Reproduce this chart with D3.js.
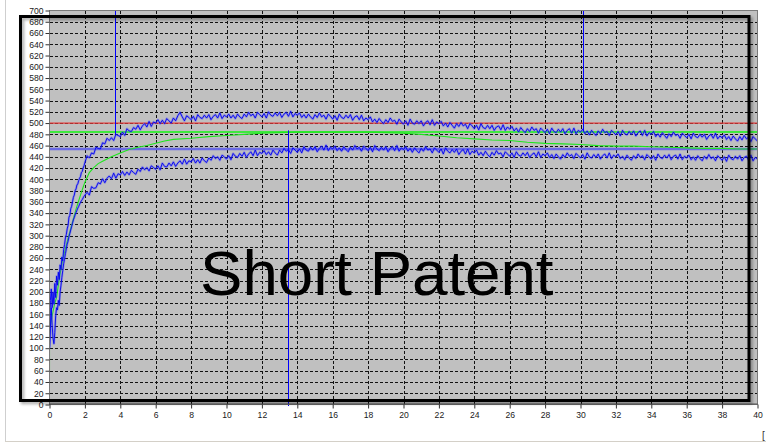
<!DOCTYPE html>
<html><head><meta charset="utf-8">
<script src="https://cdn.jsdelivr.net/npm/d3@7"></script>
<style>html,body{margin:0;padding:0;background:#fff;overflow:hidden;} svg{display:block;}</style>
</head><body>
<svg id="c" width="766" height="443"></svg>
<script>
// ---------- DATA ----------
const xTickValues = [0,2,4,6,8,10,12,14,16,18,20,22,24,26,28,30,32,34,36,38,40];
const yTickValues = [0,20,40,60,80,100,120,140,160,180,200,220,240,260,280,300,320,340,360,380,400,420,440,460,480,500,520,540,560,580,600,620,640,660,680,700];

// sampling of the two noisy traces: early part every 0.05 s from 0, late part every 0.125 s from 2.125
const earlyStart = 0, earlyStep = 0.05;
const lateStart = 2.125, lateStep = 0.125;

const upperEarly = [
  100,185,205,172,200,178,215,190,228,212,
  235,222,248,240,262,255,275,284,296,302,
  312,318,333,336,348,352,360,368,372,380,
  383,390,392,398,402,405,412,414,420,424,
  430];
const upperLate = [
  442,438,447,445,457,455,454,465,  463,473,469,474,469,480,478,476,
  484,478,490,486,485,492,489,496,  488,495,499,493,503,494,502,500,
  506,499,505,499,508,504,500,509,  504,513,519,511,504,513,510,506,
  512,504,515,510,508,514,509,515,  506,512,515,509,518,508,514,511,
  516,509,514,508,516,511,508,516,  511,519,513,516,509,519,515,511,
  517,509,520,514,512,518,513,519,  510,516,519,512,521,511,517,514,
  518,510,515,509,516,511,507,515,  510,518,511,514,507,516,512,507,
  513,505,516,510,508,514,509,515,  505,511,513,506,514,504,509,506,
  511,502,507,501,508,503,499,506,  501,509,503,505,498,507,502,498,
  504,496,507,500,498,504,499,504,  495,501,504,497,506,496,502,499,
  503,495,500,493,501,496,491,499,  494,501,495,498,490,499,495,490,
  496,488,499,492,490,496,490,496,  487,493,495,488,497,487,493,489,
  494,486,491,484,492,487,483,490,  485,493,487,490,482,491,487,483,
  489,481,491,485,483,489,484,490,  481,487,490,482,491,481,487,484,
  489,481,486,479,487,482,478,486,  481,489,483,485,478,487,483,479,
  485,477,487,481,479,485,480,486,  477,483,486,478,487,477,483,480,
  485,476,481,475,483,478,473,481,  476,484,478,480,473,482,478,474,
  480,472,482,476,474,480,475,480,  471,477,480,473,482,472,477,474,
  479,471,476,469,477,472,468,476,  470,478,472,475,467,476,472,468];

const lowerEarly = [
  100,135,172,140,118,108,128,158,172,168,
  185,176,200,212,226,238,250,258,268,276,
  285,290,298,304,310,316,322,328,332,337,
  341,345,349,352,356,359,362,364,367,370,
  372];
const lowerLate = [
  377,372,387,384,385,394,392,401,  394,402,406,401,411,402,410,408,
  414,407,413,408,416,412,409,418,  414,422,417,421,415,424,421,418,
  424,417,429,423,422,429,424,431,  423,429,433,427,436,427,433,431,
  437,429,435,429,438,433,430,438,  434,442,437,440,434,443,440,436,
  442,435,446,441,439,446,441,448,  439,445,449,442,452,442,448,446,
  451,444,449,443,452,447,443,452,  447,455,450,453,446,456,452,448,
  454,447,458,452,450,457,452,458,  449,455,459,452,461,451,457,454,
  459,451,456,450,458,453,449,457,  452,460,454,457,450,459,455,451,
  457,449,460,454,451,457,452,458,  449,455,458,451,460,450,456,453,
  458,450,455,448,456,451,447,455,  450,458,452,454,447,456,452,448,
  454,445,456,450,447,453,448,454,  444,450,453,445,454,444,450,447,
  452,443,448,442,450,444,440,448,  443,451,445,447,440,449,445,441,
  447,439,449,443,441,447,442,448,  439,444,447,440,449,439,445,442,
  447,439,444,437,445,440,436,444,  439,447,441,444,437,446,442,438,
  444,436,447,440,438,444,439,445,  436,442,445,438,447,437,443,440,
  445,437,441,435,443,438,434,442,  437,445,439,442,435,444,440,436,
  442,434,445,439,437,443,438,444,  435,441,443,436,445,435,441,438,
  443,435,440,434,442,437,433,441,  436,444,437,440,433,442,438,434,
  440,432,443,437,435,441,436,442,  433,439,441,434,443,433,439,436];

// smooth (green) trace
const greenT = [0,0,0.05,0.1,0.2,0.3,0.4,0.5,0.6,0.75,0.88,1.0,1.25,1.5,1.75,1.9,2.0,2.25,2.5,2.75,3.0,3.25,3.5,4.0,4.5,5.0,5.5,6.0,6.5,7,
  8,9,10,11,12,13,14,15,16,17,18,19,20,21,22,23,24,25,26,27,28,29,30,31,32,33,34,35,36,37,38,39,40];
const greenV = [60,125,140,150,165,180,190,212,232,258,274,290,318,347,372,386,395,412,421,428,432,436,440,447,453,457,460,464,468,471,
  473,476,478,480,482,483,484,484,484,484,484,483,482,480,477,474,472,470,469,466,464,463,462,460,459,459,458,457,456,455,455,454,454];

// horizontal reference levels
const refLevels = [500, 484, 454];           // red, green, blue
// cursor lines: x position, from value, to value
const cursorX    = [3.72, 30.16, 13.47];
const cursorFrom = [700, 700, 487];
const cursorTo   = [480, 485, 0];

const annotation = "Short Patent";

// ---------- DRAW ----------
const svg = d3.select("#c");
const W = 766, H = 443;
const pLeft = 49.5, pRight = 757.5, pTop = 10.5, pBottom = 404.5;

const x = d3.scaleLinear().domain([0, 40]).range([pLeft, pRight]);
const y = d3.scaleLinear().domain([0, 700]).range([pBottom, pTop]);

const defs = svg.append("defs");
defs.append("clipPath").attr("id","plotclip").append("rect")
  .attr("x", pLeft).attr("y", pTop).attr("width", pRight-pLeft).attr("height", pBottom-pTop);
const f = defs.append("filter").attr("id","shadow").attr("x","-5%").attr("y","-5%").attr("width","110%").attr("height","110%");
f.append("feDropShadow").attr("dx",2).attr("dy",2).attr("stdDeviation",1.6)
  .attr("flood-color","#000").attr("flood-opacity",0.35);

svg.append("rect").attr("width",W).attr("height",H).attr("fill","#fff");

// plot background
svg.append("rect").attr("x",pLeft).attr("y",pTop).attr("width",pRight-pLeft).attr("height",pBottom-pTop)
  .attr("fill","#c0c0c0");

// grid
const grid = svg.append("g").attr("stroke","#111").attr("stroke-width",1)
  .attr("stroke-dasharray","3,2").attr("shape-rendering","crispEdges");
grid.selectAll("line.v").data(xTickValues.filter(d => d > 0 && d < 40)).join("line")
  .attr("x1", d => Math.round(x(d)) + 0.5).attr("x2", d => Math.round(x(d)) + 0.5)
  .attr("y1", pTop).attr("y2", pBottom);
grid.selectAll("line.h").data(yTickValues.filter(d => d > 0 && d < 700)).join("line")
  .attr("y1", d => Math.round(y(d)) + 0.5).attr("y2", d => Math.round(y(d)) + 0.5)
  .attr("x1", pLeft).attr("x2", pRight);

const plot = svg.append("g").attr("clip-path","url(#plotclip)");

// reference lines
const refColors = ["#e43a3a", "#3ee83e", "#6a6ae4"];
const refWidths = [1.2, 2, 2.6];
plot.selectAll("line.ref").data(refLevels).join("line")
  .attr("x1", pLeft).attr("x2", pRight)
  .attr("y1", d => y(d)).attr("y2", d => y(d))
  .attr("stroke", (d,i) => refColors[i]).attr("stroke-width", (d,i) => refWidths[i]);

// build series
function buildSeries(early, late) {
  const pts = early.map((v,i) => [earlyStart + i*earlyStep, v]);
  late.forEach((v,i) => pts.push([lateStart + i*lateStep, v]));
  return pts;
}
const upper = buildSeries(upperEarly, upperLate);
const lower = buildSeries(lowerEarly, lowerLate);
const green = greenT.map((t,i) => [t, greenV[i]]);

const line = d3.line().x(d => x(d[0])).y(d => y(d[1]));

// green smooth trace
plot.append("path").datum(green).attr("d", line)
  .attr("fill","none").attr("stroke","#1ee61e").attr("stroke-width",1.1);

// noisy traces: halo + core
[upper, lower].forEach(s => {
  plot.append("path").datum(s).attr("d", line)
    .attr("fill","none").attr("stroke","rgba(80,80,255,0.38)").attr("stroke-width",2.4)
    .attr("stroke-linejoin","round");
  plot.append("path").datum(s).attr("d", line)
    .attr("fill","none").attr("stroke","#0000f0").attr("stroke-width",0.9)
    .attr("stroke-linejoin","round");
});

// cursor lines
svg.selectAll("line.cur").data(cursorX).join("line")
  .attr("x1", d => Math.round(x(d)) + 0.5).attr("x2", d => Math.round(x(d)) + 0.5)
  .attr("y1", (d,i) => y(cursorFrom[i])).attr("y2", (d,i) => cursorTo[i] === 0 ? pBottom + 1.5 : y(cursorTo[i]))
  .attr("stroke","#0000ff").attr("stroke-width",1);

// plot frame
svg.append("rect").attr("x",pLeft).attr("y",pTop).attr("width",pRight-pLeft).attr("height",pBottom-pTop)
  .attr("fill","none").attr("stroke","#7a7a7a").attr("stroke-width",1);
svg.append("line").attr("x1",pLeft).attr("x2",pRight).attr("y1",pBottom-0.5).attr("y2",pBottom-0.5)
  .attr("stroke","#555").attr("stroke-width",1);

// axes
const fontFam = "'Liberation Sans', Arial, sans-serif";
const yAxis = d3.axisLeft(y).tickValues(yTickValues).tickSize(4).tickPadding(2);
const gy = svg.append("g").attr("transform", `translate(${pLeft},0)`).call(yAxis);
gy.select(".domain").remove();
gy.selectAll("line").attr("stroke","#333");
gy.selectAll("text").attr("font-family", fontFam).attr("font-size", 8.6).attr("fill","#1a1a1a");

const xAxis = d3.axisBottom(x).tickValues(xTickValues).tickSize(4).tickPadding(3);
const gx = svg.append("g").attr("transform", `translate(0,${pBottom})`).call(xAxis);
gx.select(".domain").remove();
gx.selectAll("line").attr("stroke","#333");
gx.selectAll("text").attr("font-family", fontFam).attr("font-size", 8.6).attr("fill","#1a1a1a");

// annotation frame with shadow
svg.append("rect").attr("x",20.5).attr("y",16.5).attr("width",728.5).attr("height",384)
  .attr("fill","none").attr("stroke","#000").attr("stroke-width",3).attr("filter","url(#shadow)");

svg.append("text").attr("x",200).attr("y",295).text(annotation)
  .attr("font-family", fontFam).attr("font-size", 63.6).attr("fill","#000");

// window chrome
svg.append("line").attr("x1",5.5).attr("x2",5.5).attr("y1",0).attr("y2",442)
  .attr("stroke","#cfcfcf").attr("stroke-width",1);
svg.append("line").attr("x1",5).attr("x2",W).attr("y1",441.5).attr("y2",441.5)
  .attr("stroke","#d4d0c8").attr("stroke-width",1);
svg.append("text").attr("x",762).attr("y",439).text("[")
  .attr("font-family", fontFam).attr("font-size", 10).attr("fill","#333");
</script>
</body></html>
